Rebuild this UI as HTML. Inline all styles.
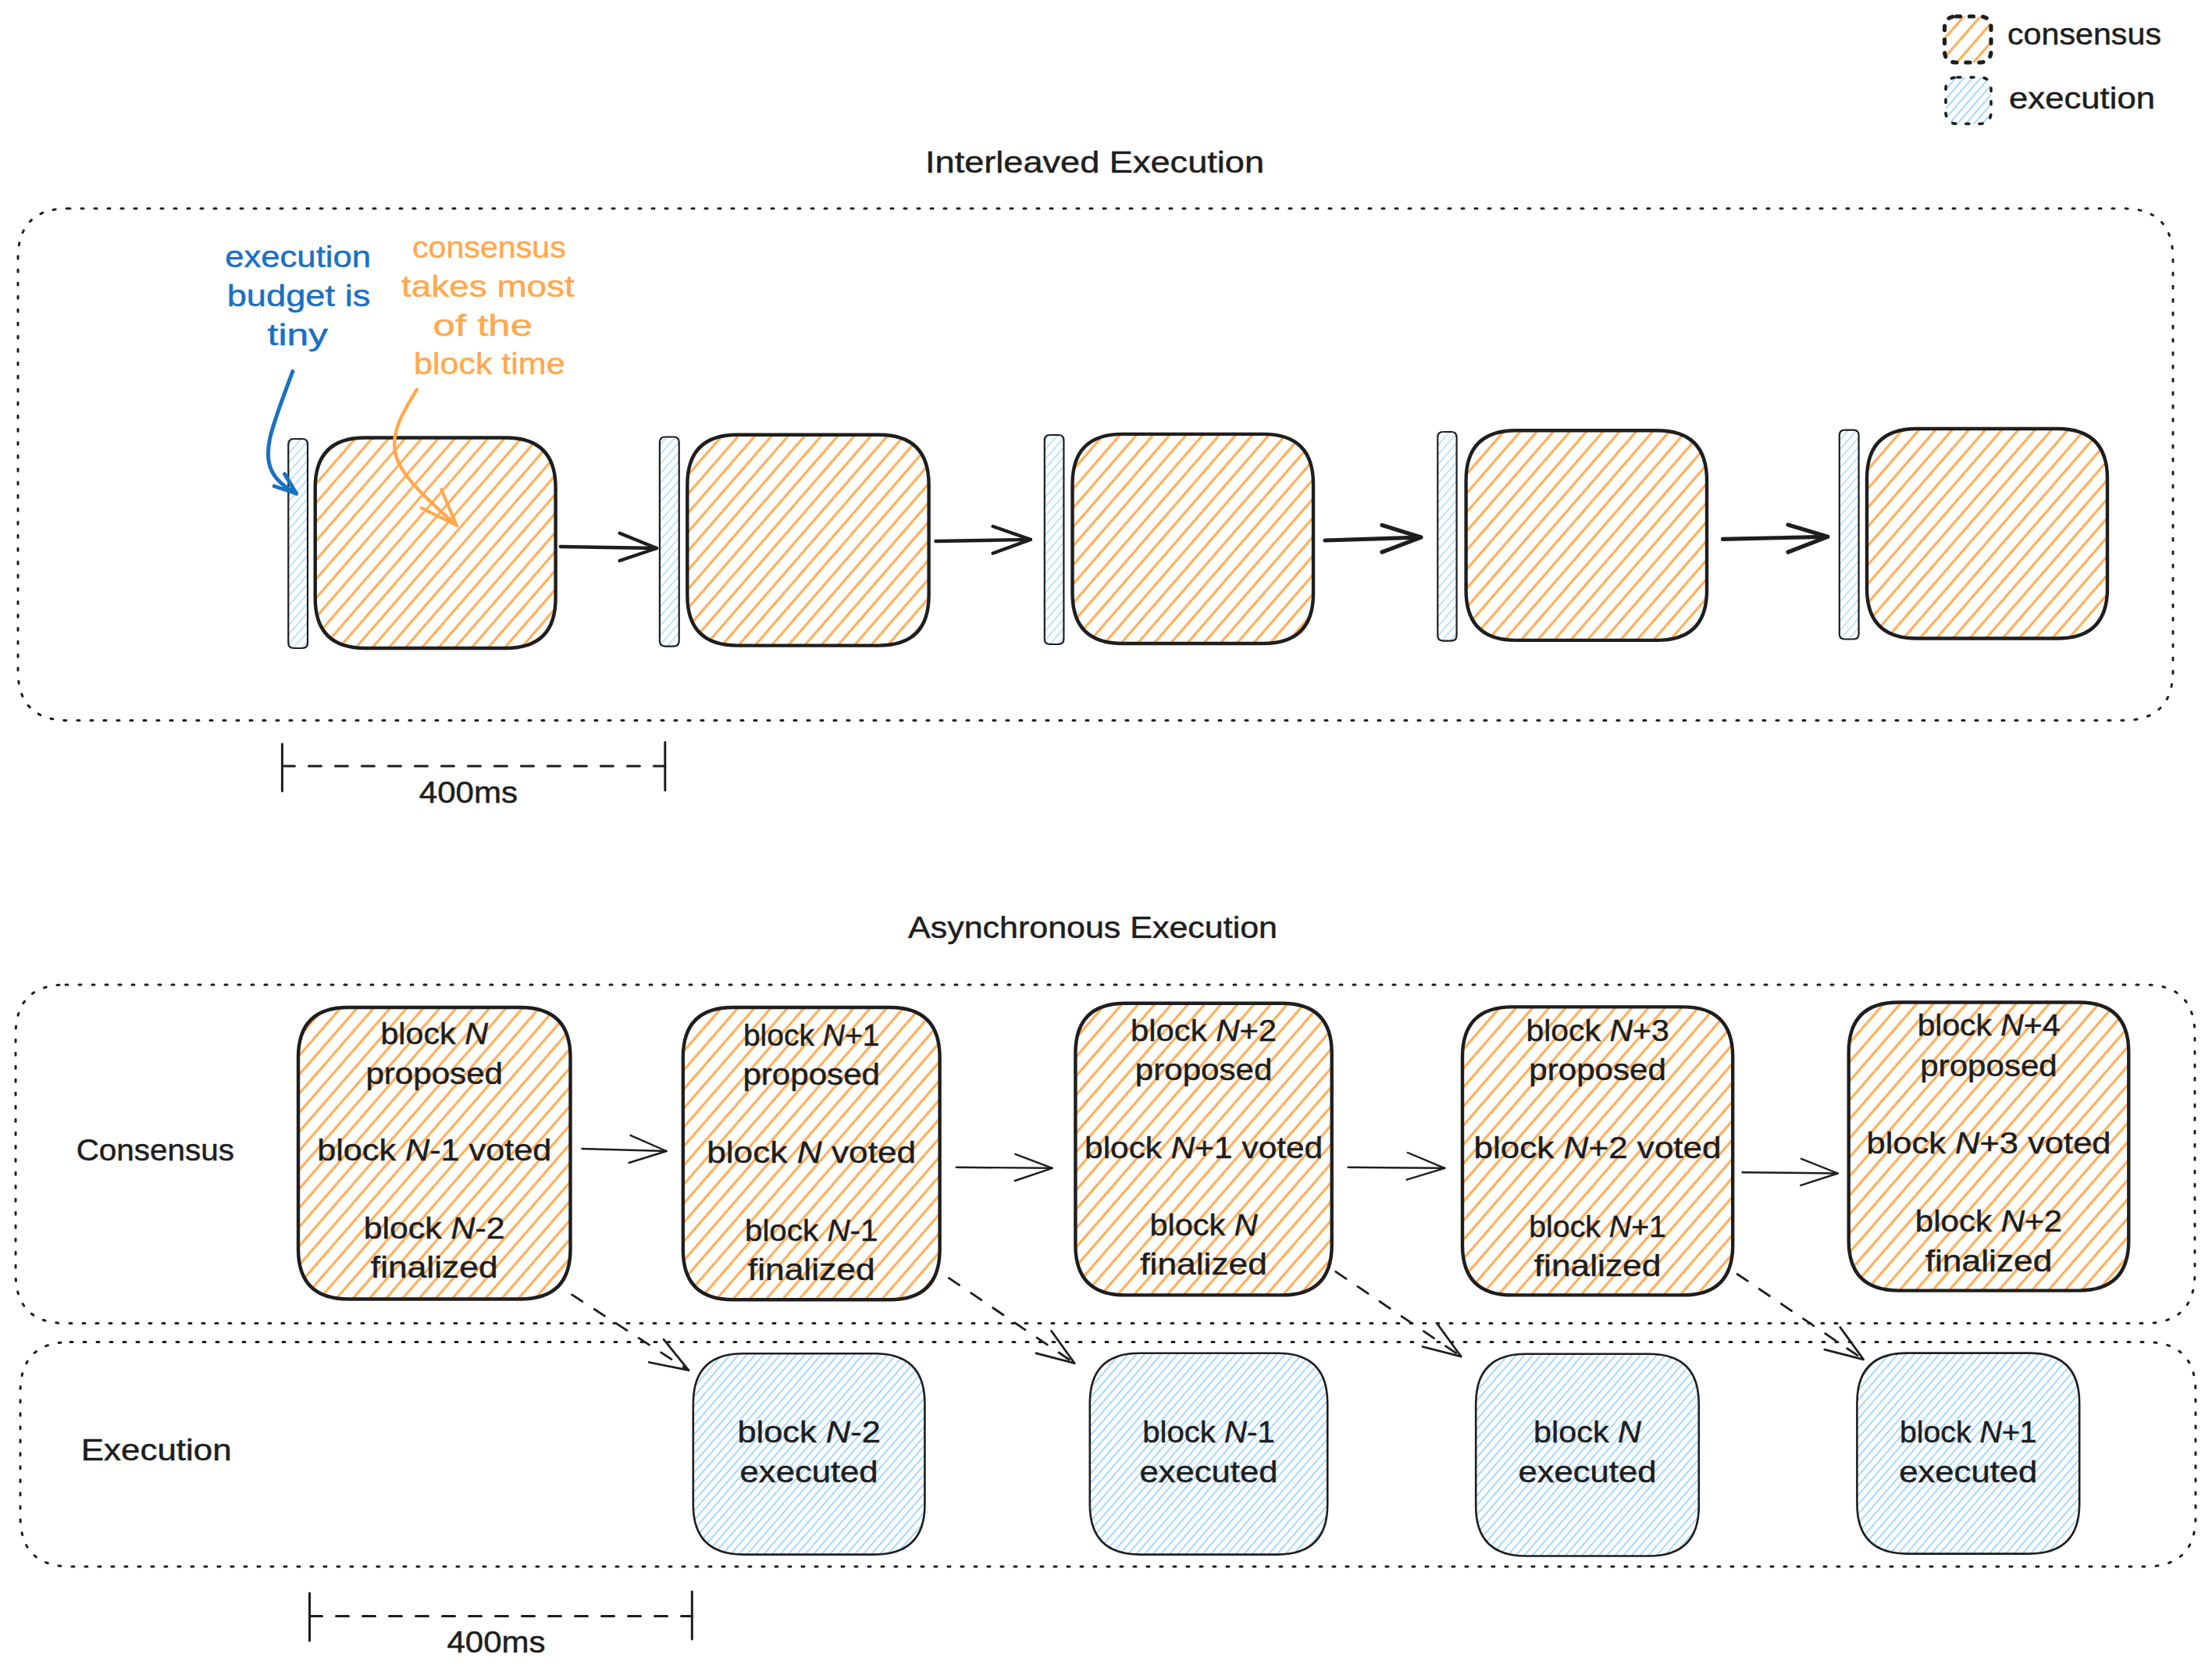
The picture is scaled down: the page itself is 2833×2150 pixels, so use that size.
<!DOCTYPE html><html><head><meta charset="utf-8"><style>html,body{margin:0;padding:0;background:#fff;}svg{display:block;}text{font-family:"Liberation Sans",sans-serif;}</style></head><body>
<svg width="2833" height="2150" viewBox="0 0 2833 2150">
<defs>
<pattern id="ho" patternUnits="userSpaceOnUse" width="40" height="16" patternTransform="rotate(-49)"><line x1="0" y1="8" x2="40" y2="8" stroke="#ffa94d" stroke-width="3.2"/></pattern>
<pattern id="hb" patternUnits="userSpaceOnUse" width="40" height="8" patternTransform="rotate(-49)"><line x1="0" y1="4" x2="40" y2="4" stroke="#a5d8ff" stroke-width="1.9"/></pattern>
<pattern id="hbs" patternUnits="userSpaceOnUse" width="40" height="8" patternTransform="rotate(-49)"><line x1="0" y1="4" x2="40" y2="4" stroke="#a5d8ff" stroke-width="1.4"/></pattern>
</defs>
<rect width="2833" height="2150" fill="#fff"/>
<path d="M2505.5,21.0 L2535.0,21.0 Q2550.0,21.0 2550.0,36.0 L2550.0,65.0 Q2550.0,80.0 2535.0,80.0 L2505.5,80.0 Q2490.5,80.0 2490.5,65.0 L2490.5,36.0 Q2490.5,21.0 2505.5,21.0 Z" fill="url(#ho)" stroke="none"/>
<path d="M2505.5,21.0 L2535.0,21.0 Q2550.0,21.0 2550.0,36.0 L2550.0,65.0 Q2550.0,80.0 2535.0,80.0 L2505.5,80.0 Q2490.5,80.0 2490.5,65.0 L2490.5,36.0 Q2490.5,21.0 2505.5,21.0 Z" fill="none" stroke="#1e1e1e" stroke-width="5.2" stroke-linecap="round" stroke-linejoin="round" stroke-dasharray="5 12"/>
<path d="M2507.0,99.0 L2535.0,99.0 Q2550.0,99.0 2550.0,114.0 L2550.0,143.5 Q2550.0,158.5 2535.0,158.5 L2507.0,158.5 Q2492.0,158.5 2492.0,143.5 L2492.0,114.0 Q2492.0,99.0 2507.0,99.0 Z" fill="url(#hb)" stroke="none"/>
<path d="M2507.0,99.0 L2535.0,99.0 Q2550.0,99.0 2550.0,114.0 L2550.0,143.5 Q2550.0,158.5 2535.0,158.5 L2507.0,158.5 Q2492.0,158.5 2492.0,143.5 L2492.0,114.0 Q2492.0,99.0 2507.0,99.0 Z" fill="none" stroke="#1e1e1e" stroke-width="3.6" stroke-linecap="round" stroke-linejoin="round" stroke-dasharray="4 13"/>
<text x="2669.5" y="57.0" text-anchor="middle" font-size="39" fill="#1e1e1e" stroke="#1e1e1e" stroke-width="0.5" textLength="197.0" lengthAdjust="spacingAndGlyphs">consensus</text>
<text x="2666.5" y="139.0" text-anchor="middle" font-size="39" fill="#1e1e1e" stroke="#1e1e1e" stroke-width="0.5" textLength="187.0" lengthAdjust="spacingAndGlyphs">execution</text>
<text x="1402.0" y="221.0" text-anchor="middle" font-size="39" fill="#1e1e1e" stroke="#1e1e1e" stroke-width="0.5" textLength="434.0" lengthAdjust="spacingAndGlyphs">Interleaved Execution</text>
<text x="1399.5" y="1201.0" text-anchor="middle" font-size="39" fill="#1e1e1e" stroke="#1e1e1e" stroke-width="0.5" textLength="473.0" lengthAdjust="spacingAndGlyphs">Asynchronous Execution</text>
<path d="M87.0,267.0 L2719.0,267.0 Q2783.0,267.0 2783.0,331.0 L2783.0,858.5 Q2783.0,922.5 2719.0,922.5 L87.0,922.5 Q23.0,922.5 23.0,858.5 L23.0,331.0 Q23.0,267.0 87.0,267.0 Z" fill="none" stroke="#1e1e1e" stroke-width="3" stroke-linecap="round" stroke-linejoin="round" stroke-dasharray="3 14"/>
<text x="381.6" y="342.4" text-anchor="middle" font-size="39" fill="#1971c2" stroke="#1971c2" stroke-width="0.5" textLength="186.7" lengthAdjust="spacingAndGlyphs">execution</text>
<text x="382.5" y="391.7" text-anchor="middle" font-size="39" fill="#1971c2" stroke="#1971c2" stroke-width="0.5" textLength="183.7" lengthAdjust="spacingAndGlyphs">budget is</text>
<text x="381.3" y="442.0" text-anchor="middle" font-size="39" fill="#1971c2" stroke="#1971c2" stroke-width="0.5" textLength="77.4" lengthAdjust="spacingAndGlyphs">tiny</text>
<text x="626.4" y="330.2" text-anchor="middle" font-size="39" fill="#ffa94d" stroke="#ffa94d" stroke-width="0.5" textLength="196.8" lengthAdjust="spacingAndGlyphs">consensus</text>
<text x="624.9" y="380.4" text-anchor="middle" font-size="39" fill="#ffa94d" stroke="#ffa94d" stroke-width="0.5" textLength="221.8" lengthAdjust="spacingAndGlyphs">takes most</text>
<text x="618.3" y="429.5" text-anchor="middle" font-size="39" fill="#ffa94d" stroke="#ffa94d" stroke-width="0.5" textLength="127.4" lengthAdjust="spacingAndGlyphs">of the</text>
<text x="626.8" y="479.0" text-anchor="middle" font-size="39" fill="#ffa94d" stroke="#ffa94d" stroke-width="0.5" textLength="193.6" lengthAdjust="spacingAndGlyphs">block time</text>
<path d="M376.3,562.0 L387.0,562.0 Q394.0,562.0 394.0,569.0 L394.0,823.0 Q394.0,830.0 387.0,830.0 L376.3,830.0 Q369.3,830.0 369.3,823.0 L369.3,569.0 Q369.3,562.0 376.3,562.0 Z" fill="url(#hbs)" stroke="none"/>
<path d="M376.3,562.0 L387.0,562.0 Q394.0,562.0 394.0,569.0 L394.0,823.0 Q394.0,830.0 387.0,830.0 L376.3,830.0 Q369.3,830.0 369.3,823.0 L369.3,569.0 Q369.3,562.0 376.3,562.0 Z" fill="none" stroke="#1e1e1e" stroke-width="2.2" stroke-linecap="round" stroke-linejoin="round"/>
<path d="M851.9,559.5 L862.7,559.5 Q869.7,559.5 869.7,566.5 L869.7,820.6 Q869.7,827.6 862.7,827.6 L851.9,827.6 Q844.9,827.6 844.9,820.6 L844.9,566.5 Q844.9,559.5 851.9,559.5 Z" fill="url(#hbs)" stroke="none"/>
<path d="M851.9,559.5 L862.7,559.5 Q869.7,559.5 869.7,566.5 L869.7,820.6 Q869.7,827.6 862.7,827.6 L851.9,827.6 Q844.9,827.6 844.9,820.6 L844.9,566.5 Q844.9,559.5 851.9,559.5 Z" fill="none" stroke="#1e1e1e" stroke-width="2.2" stroke-linecap="round" stroke-linejoin="round"/>
<path d="M1344.8,557.0 L1355.4,557.0 Q1362.4,557.0 1362.4,564.0 L1362.4,818.0 Q1362.4,825.0 1355.4,825.0 L1344.8,825.0 Q1337.8,825.0 1337.8,818.0 L1337.8,564.0 Q1337.8,557.0 1344.8,557.0 Z" fill="url(#hbs)" stroke="none"/>
<path d="M1344.8,557.0 L1355.4,557.0 Q1362.4,557.0 1362.4,564.0 L1362.4,818.0 Q1362.4,825.0 1355.4,825.0 L1344.8,825.0 Q1337.8,825.0 1337.8,818.0 L1337.8,564.0 Q1337.8,557.0 1344.8,557.0 Z" fill="none" stroke="#1e1e1e" stroke-width="2.2" stroke-linecap="round" stroke-linejoin="round"/>
<path d="M1848.3,553.0 L1858.6,553.0 Q1865.6,553.0 1865.6,560.0 L1865.6,813.6 Q1865.6,820.6 1858.6,820.6 L1848.3,820.6 Q1841.3,820.6 1841.3,813.6 L1841.3,560.0 Q1841.3,553.0 1848.3,553.0 Z" fill="url(#hbs)" stroke="none"/>
<path d="M1848.3,553.0 L1858.6,553.0 Q1865.6,553.0 1865.6,560.0 L1865.6,813.6 Q1865.6,820.6 1858.6,820.6 L1848.3,820.6 Q1841.3,820.6 1841.3,813.6 L1841.3,560.0 Q1841.3,553.0 1848.3,553.0 Z" fill="none" stroke="#1e1e1e" stroke-width="2.2" stroke-linecap="round" stroke-linejoin="round"/>
<path d="M2362.8,550.6 L2373.6,550.6 Q2380.6,550.6 2380.6,557.6 L2380.6,811.5 Q2380.6,818.5 2373.6,818.5 L2362.8,818.5 Q2355.8,818.5 2355.8,811.5 L2355.8,557.6 Q2355.8,550.6 2362.8,550.6 Z" fill="url(#hbs)" stroke="none"/>
<path d="M2362.8,550.6 L2373.6,550.6 Q2380.6,550.6 2380.6,557.6 L2380.6,811.5 Q2380.6,818.5 2373.6,818.5 L2362.8,818.5 Q2355.8,818.5 2355.8,811.5 L2355.8,557.6 Q2355.8,550.6 2362.8,550.6 Z" fill="none" stroke="#1e1e1e" stroke-width="2.2" stroke-linecap="round" stroke-linejoin="round"/>
<path d="M467.7,560.5 L647.6,560.5 Q711.6,560.5 711.6,624.5 L711.6,766.0 Q711.6,830.0 647.6,830.0 L467.7,830.0 Q403.7,830.0 403.7,766.0 L403.7,624.5 Q403.7,560.5 467.7,560.5 Z" fill="url(#ho)" stroke="none"/>
<path d="M467.7,560.5 L647.6,560.5 Q711.6,560.5 711.6,624.5 L711.6,766.0 Q711.6,830.0 647.6,830.0 L467.7,830.0 Q403.7,830.0 403.7,766.0 L403.7,624.5 Q403.7,560.5 467.7,560.5 Z" fill="none" stroke="#1e1e1e" stroke-width="4.4" stroke-linecap="round" stroke-linejoin="round"/>
<path d="M944.3,556.7 L1125.6,556.7 Q1189.6,556.7 1189.6,620.7 L1189.6,762.6 Q1189.6,826.6 1125.6,826.6 L944.3,826.6 Q880.3,826.6 880.3,762.6 L880.3,620.7 Q880.3,556.7 944.3,556.7 Z" fill="url(#ho)" stroke="none"/>
<path d="M944.3,556.7 L1125.6,556.7 Q1189.6,556.7 1189.6,620.7 L1189.6,762.6 Q1189.6,826.6 1125.6,826.6 L944.3,826.6 Q880.3,826.6 880.3,762.6 L880.3,620.7 Q880.3,556.7 944.3,556.7 Z" fill="none" stroke="#1e1e1e" stroke-width="4.4" stroke-linecap="round" stroke-linejoin="round"/>
<path d="M1437.5,555.9 L1618.0,555.9 Q1682.0,555.9 1682.0,619.9 L1682.0,760.0 Q1682.0,824.0 1618.0,824.0 L1437.5,824.0 Q1373.5,824.0 1373.5,760.0 L1373.5,619.9 Q1373.5,555.9 1437.5,555.9 Z" fill="url(#ho)" stroke="none"/>
<path d="M1437.5,555.9 L1618.0,555.9 Q1682.0,555.9 1682.0,619.9 L1682.0,760.0 Q1682.0,824.0 1618.0,824.0 L1437.5,824.0 Q1373.5,824.0 1373.5,760.0 L1373.5,619.9 Q1373.5,555.9 1437.5,555.9 Z" fill="none" stroke="#1e1e1e" stroke-width="4.4" stroke-linecap="round" stroke-linejoin="round"/>
<path d="M1941.6,551.3 L2122.0,551.3 Q2186.0,551.3 2186.0,615.3 L2186.0,755.9 Q2186.0,819.9 2122.0,819.9 L1941.6,819.9 Q1877.6,819.9 1877.6,755.9 L1877.6,615.3 Q1877.6,551.3 1941.6,551.3 Z" fill="url(#ho)" stroke="none"/>
<path d="M1941.6,551.3 L2122.0,551.3 Q2186.0,551.3 2186.0,615.3 L2186.0,755.9 Q2186.0,819.9 2122.0,819.9 L1941.6,819.9 Q1877.6,819.9 1877.6,755.9 L1877.6,615.3 Q1877.6,551.3 1941.6,551.3 Z" fill="none" stroke="#1e1e1e" stroke-width="4.4" stroke-linecap="round" stroke-linejoin="round"/>
<path d="M2455.0,549.0 L2635.0,549.0 Q2699.0,549.0 2699.0,613.0 L2699.0,753.5 Q2699.0,817.5 2635.0,817.5 L2455.0,817.5 Q2391.0,817.5 2391.0,753.5 L2391.0,613.0 Q2391.0,549.0 2455.0,549.0 Z" fill="url(#ho)" stroke="none"/>
<path d="M2455.0,549.0 L2635.0,549.0 Q2699.0,549.0 2699.0,613.0 L2699.0,753.5 Q2699.0,817.5 2635.0,817.5 L2455.0,817.5 Q2391.0,817.5 2391.0,753.5 L2391.0,613.0 Q2391.0,549.0 2455.0,549.0 Z" fill="none" stroke="#1e1e1e" stroke-width="4.4" stroke-linecap="round" stroke-linejoin="round"/>
<path d="M717.7,700.0 L841.0,702.0" fill="none" stroke="#1e1e1e" stroke-width="4.4" stroke-linecap="round"/>
<path d="M793.6,682.7 L841.0,702.0 L793.6,718.0" fill="none" stroke="#1e1e1e" stroke-width="4.4" stroke-linecap="round" stroke-linejoin="round"/>
<path d="M1198.3,693.0 L1319.9,690.9" fill="none" stroke="#1e1e1e" stroke-width="4.4" stroke-linecap="round"/>
<path d="M1271.6,674.0 L1319.9,690.9 L1271.6,708.5" fill="none" stroke="#1e1e1e" stroke-width="4.4" stroke-linecap="round" stroke-linejoin="round"/>
<path d="M1697.0,692.0 L1819.9,688.0" fill="none" stroke="#1e1e1e" stroke-width="5.2" stroke-linecap="round"/>
<path d="M1770.0,672.4 L1819.9,688.0 L1770.0,707.0" fill="none" stroke="#1e1e1e" stroke-width="5.2" stroke-linecap="round" stroke-linejoin="round"/>
<path d="M2206.5,690.3 L2340.7,687.3" fill="none" stroke="#1e1e1e" stroke-width="5.2" stroke-linecap="round"/>
<path d="M2290.0,672.0 L2340.7,687.3 L2290.0,707.0" fill="none" stroke="#1e1e1e" stroke-width="5.2" stroke-linecap="round" stroke-linejoin="round"/>
<path d="M374.8,475.5 C366,500 352,535 346,560 C338,595 348,615 379.5,632" fill="none" stroke="#1971c2" stroke-width="5" stroke-linecap="round"/>
<path d="M364.6,607 L379.5,632 L351.2,622.5" fill="none" stroke="#1971c2" stroke-width="5" stroke-linecap="round" stroke-linejoin="round"/>
<path d="M533.7,499 C515,530 503,550 505.5,575 C508,600 530,625 584.8,672.7" fill="none" stroke="#ffa94d" stroke-width="4.5" stroke-linecap="round"/>
<path d="M565.2,626.8 L584.8,672.7 L539.6,650.4" fill="none" stroke="#ffa94d" stroke-width="4.2" stroke-linecap="round" stroke-linejoin="round"/>
<path d="M361.4,952.7 L361.4,1013.0" fill="none" stroke="#1e1e1e" stroke-width="3" stroke-linecap="round"/>
<path d="M851.8,950.6 L851.8,1012.0" fill="none" stroke="#1e1e1e" stroke-width="3" stroke-linecap="round"/>
<path d="M361.4,981.0 L851.8,981.0" fill="none" stroke="#1e1e1e" stroke-width="3" stroke-linecap="round" stroke-dasharray="16 18"/>
<text x="599.9" y="1028.4" text-anchor="middle" font-size="39" fill="#1e1e1e" stroke="#1e1e1e" stroke-width="0.5" textLength="126.3" lengthAdjust="spacingAndGlyphs">400ms</text>
<path d="M84.0,1261.0 L2747.0,1261.0 Q2811.0,1261.0 2811.0,1325.0 L2811.0,1630.5 Q2811.0,1694.5 2747.0,1694.5 L84.0,1694.5 Q20.0,1694.5 20.0,1630.5 L20.0,1325.0 Q20.0,1261.0 84.0,1261.0 Z" fill="none" stroke="#1e1e1e" stroke-width="3" stroke-linecap="round" stroke-linejoin="round" stroke-dasharray="3 14"/>
<path d="M90.0,1718.5 L2748.0,1718.5 Q2812.0,1718.5 2812.0,1782.5 L2812.0,1942.0 Q2812.0,2006.0 2748.0,2006.0 L90.0,2006.0 Q26.0,2006.0 26.0,1942.0 L26.0,1782.5 Q26.0,1718.5 90.0,1718.5 Z" fill="none" stroke="#1e1e1e" stroke-width="3" stroke-linecap="round" stroke-linejoin="round" stroke-dasharray="3 14"/>
<text x="198.8" y="1486.0" text-anchor="middle" font-size="39" fill="#1e1e1e" stroke="#1e1e1e" stroke-width="0.5" textLength="202.3" lengthAdjust="spacingAndGlyphs">Consensus</text>
<text x="200.2" y="1870.4" text-anchor="middle" font-size="39" fill="#1e1e1e" stroke="#1e1e1e" stroke-width="0.5" textLength="192.7" lengthAdjust="spacingAndGlyphs">Execution</text>
<path d="M446.0,1290.0 L666.5,1290.0 Q730.5,1290.0 730.5,1354.0 L730.5,1599.5 Q730.5,1663.5 666.5,1663.5 L446.0,1663.5 Q382.0,1663.5 382.0,1599.5 L382.0,1354.0 Q382.0,1290.0 446.0,1290.0 Z" fill="url(#ho)" stroke="none"/>
<path d="M446.0,1290.0 L666.5,1290.0 Q730.5,1290.0 730.5,1354.0 L730.5,1599.5 Q730.5,1663.5 666.5,1663.5 L446.0,1663.5 Q382.0,1663.5 382.0,1599.5 L382.0,1354.0 Q382.0,1290.0 446.0,1290.0 Z" fill="none" stroke="#1e1e1e" stroke-width="4.4" stroke-linecap="round" stroke-linejoin="round"/>
<path d="M938.8,1290.0 L1139.6,1290.0 Q1203.6,1290.0 1203.6,1354.0 L1203.6,1600.3 Q1203.6,1664.3 1139.6,1664.3 L938.8,1664.3 Q874.8,1664.3 874.8,1600.3 L874.8,1354.0 Q874.8,1290.0 938.8,1290.0 Z" fill="url(#ho)" stroke="none"/>
<path d="M938.8,1290.0 L1139.6,1290.0 Q1203.6,1290.0 1203.6,1354.0 L1203.6,1600.3 Q1203.6,1664.3 1139.6,1664.3 L938.8,1664.3 Q874.8,1664.3 874.8,1600.3 L874.8,1354.0 Q874.8,1290.0 938.8,1290.0 Z" fill="none" stroke="#1e1e1e" stroke-width="4.4" stroke-linecap="round" stroke-linejoin="round"/>
<path d="M1441.4,1284.8 L1641.7,1284.8 Q1705.7,1284.8 1705.7,1348.8 L1705.7,1594.4 Q1705.7,1658.4 1641.7,1658.4 L1441.4,1658.4 Q1377.4,1658.4 1377.4,1594.4 L1377.4,1348.8 Q1377.4,1284.8 1441.4,1284.8 Z" fill="url(#ho)" stroke="none"/>
<path d="M1441.4,1284.8 L1641.7,1284.8 Q1705.7,1284.8 1705.7,1348.8 L1705.7,1594.4 Q1705.7,1658.4 1641.7,1658.4 L1441.4,1658.4 Q1377.4,1658.4 1377.4,1594.4 L1377.4,1348.8 Q1377.4,1284.8 1441.4,1284.8 Z" fill="none" stroke="#1e1e1e" stroke-width="4.4" stroke-linecap="round" stroke-linejoin="round"/>
<path d="M1937.0,1289.4 L2155.2,1289.4 Q2219.2,1289.4 2219.2,1353.4 L2219.2,1594.4 Q2219.2,1658.4 2155.2,1658.4 L1937.0,1658.4 Q1873.0,1658.4 1873.0,1594.4 L1873.0,1353.4 Q1873.0,1289.4 1937.0,1289.4 Z" fill="url(#ho)" stroke="none"/>
<path d="M1937.0,1289.4 L2155.2,1289.4 Q2219.2,1289.4 2219.2,1353.4 L2219.2,1594.4 Q2219.2,1658.4 2155.2,1658.4 L1937.0,1658.4 Q1873.0,1658.4 1873.0,1594.4 L1873.0,1353.4 Q1873.0,1289.4 1937.0,1289.4 Z" fill="none" stroke="#1e1e1e" stroke-width="4.4" stroke-linecap="round" stroke-linejoin="round"/>
<path d="M2431.7,1283.5 L2662.3,1283.5 Q2726.3,1283.5 2726.3,1347.5 L2726.3,1588.6 Q2726.3,1652.6 2662.3,1652.6 L2431.7,1652.6 Q2367.7,1652.6 2367.7,1588.6 L2367.7,1347.5 Q2367.7,1283.5 2431.7,1283.5 Z" fill="url(#ho)" stroke="none"/>
<path d="M2431.7,1283.5 L2662.3,1283.5 Q2726.3,1283.5 2726.3,1347.5 L2726.3,1588.6 Q2726.3,1652.6 2662.3,1652.6 L2431.7,1652.6 Q2367.7,1652.6 2367.7,1588.6 L2367.7,1347.5 Q2367.7,1283.5 2431.7,1283.5 Z" fill="none" stroke="#1e1e1e" stroke-width="4.4" stroke-linecap="round" stroke-linejoin="round"/>
<text x="556.2" y="1337.0" text-anchor="middle" font-size="39" fill="#1e1e1e" stroke="#1e1e1e" stroke-width="0.5" textLength="137.5" lengthAdjust="spacingAndGlyphs">block <tspan font-style="italic">N</tspan></text>
<text x="556.2" y="1387.8" text-anchor="middle" font-size="39" fill="#1e1e1e" stroke="#1e1e1e" stroke-width="0.5" textLength="175.6" lengthAdjust="spacingAndGlyphs">proposed</text>
<text x="556.2" y="1486.3" text-anchor="middle" font-size="39" fill="#1e1e1e" stroke="#1e1e1e" stroke-width="0.5" textLength="300.0" lengthAdjust="spacingAndGlyphs">block <tspan font-style="italic">N</tspan>-1 voted</text>
<text x="556.2" y="1586.0" text-anchor="middle" font-size="39" fill="#1e1e1e" stroke="#1e1e1e" stroke-width="0.5" textLength="181.0" lengthAdjust="spacingAndGlyphs">block <tspan font-style="italic">N</tspan>-2</text>
<text x="556.2" y="1636.0" text-anchor="middle" font-size="39" fill="#1e1e1e" stroke="#1e1e1e" stroke-width="0.5" textLength="162.7" lengthAdjust="spacingAndGlyphs">finalized</text>
<text x="1039.2" y="1338.6" text-anchor="middle" font-size="39" fill="#1e1e1e" stroke="#1e1e1e" stroke-width="0.5" textLength="174.5" lengthAdjust="spacingAndGlyphs">block <tspan font-style="italic">N</tspan>+1</text>
<text x="1039.2" y="1389.0" text-anchor="middle" font-size="39" fill="#1e1e1e" stroke="#1e1e1e" stroke-width="0.5" textLength="175.6" lengthAdjust="spacingAndGlyphs">proposed</text>
<text x="1039.2" y="1489.0" text-anchor="middle" font-size="39" fill="#1e1e1e" stroke="#1e1e1e" stroke-width="0.5" textLength="268.0" lengthAdjust="spacingAndGlyphs">block <tspan font-style="italic">N</tspan> voted</text>
<text x="1039.2" y="1588.7" text-anchor="middle" font-size="39" fill="#1e1e1e" stroke="#1e1e1e" stroke-width="0.5" textLength="170.5" lengthAdjust="spacingAndGlyphs">block <tspan font-style="italic">N</tspan>-1</text>
<text x="1039.2" y="1638.7" text-anchor="middle" font-size="39" fill="#1e1e1e" stroke="#1e1e1e" stroke-width="0.5" textLength="162.7" lengthAdjust="spacingAndGlyphs">finalized</text>
<text x="1541.6" y="1332.7" text-anchor="middle" font-size="39" fill="#1e1e1e" stroke="#1e1e1e" stroke-width="0.5" textLength="187.0" lengthAdjust="spacingAndGlyphs">block <tspan font-style="italic">N</tspan>+2</text>
<text x="1541.6" y="1382.6" text-anchor="middle" font-size="39" fill="#1e1e1e" stroke="#1e1e1e" stroke-width="0.5" textLength="175.6" lengthAdjust="spacingAndGlyphs">proposed</text>
<text x="1541.6" y="1482.5" text-anchor="middle" font-size="39" fill="#1e1e1e" stroke="#1e1e1e" stroke-width="0.5" textLength="305.0" lengthAdjust="spacingAndGlyphs">block <tspan font-style="italic">N</tspan>+1 voted</text>
<text x="1541.6" y="1582.3" text-anchor="middle" font-size="39" fill="#1e1e1e" stroke="#1e1e1e" stroke-width="0.5" textLength="138.4" lengthAdjust="spacingAndGlyphs">block <tspan font-style="italic">N</tspan></text>
<text x="1541.6" y="1632.3" text-anchor="middle" font-size="39" fill="#1e1e1e" stroke="#1e1e1e" stroke-width="0.5" textLength="162.7" lengthAdjust="spacingAndGlyphs">finalized</text>
<text x="2046.1" y="1332.7" text-anchor="middle" font-size="39" fill="#1e1e1e" stroke="#1e1e1e" stroke-width="0.5" textLength="183.3" lengthAdjust="spacingAndGlyphs">block <tspan font-style="italic">N</tspan>+3</text>
<text x="2046.1" y="1383.2" text-anchor="middle" font-size="39" fill="#1e1e1e" stroke="#1e1e1e" stroke-width="0.5" textLength="175.6" lengthAdjust="spacingAndGlyphs">proposed</text>
<text x="2046.1" y="1483.0" text-anchor="middle" font-size="39" fill="#1e1e1e" stroke="#1e1e1e" stroke-width="0.5" textLength="317.0" lengthAdjust="spacingAndGlyphs">block <tspan font-style="italic">N</tspan>+2 voted</text>
<text x="2046.1" y="1583.6" text-anchor="middle" font-size="39" fill="#1e1e1e" stroke="#1e1e1e" stroke-width="0.5" textLength="175.6" lengthAdjust="spacingAndGlyphs">block <tspan font-style="italic">N</tspan>+1</text>
<text x="2046.1" y="1633.5" text-anchor="middle" font-size="39" fill="#1e1e1e" stroke="#1e1e1e" stroke-width="0.5" textLength="162.7" lengthAdjust="spacingAndGlyphs">finalized</text>
<text x="2547.0" y="1325.8" text-anchor="middle" font-size="39" fill="#1e1e1e" stroke="#1e1e1e" stroke-width="0.5" textLength="182.7" lengthAdjust="spacingAndGlyphs">block <tspan font-style="italic">N</tspan>+4</text>
<text x="2547.0" y="1377.8" text-anchor="middle" font-size="39" fill="#1e1e1e" stroke="#1e1e1e" stroke-width="0.5" textLength="175.6" lengthAdjust="spacingAndGlyphs">proposed</text>
<text x="2547.0" y="1477.3" text-anchor="middle" font-size="39" fill="#1e1e1e" stroke="#1e1e1e" stroke-width="0.5" textLength="313.0" lengthAdjust="spacingAndGlyphs">block <tspan font-style="italic">N</tspan>+3 voted</text>
<text x="2547.0" y="1577.4" text-anchor="middle" font-size="39" fill="#1e1e1e" stroke="#1e1e1e" stroke-width="0.5" textLength="188.4" lengthAdjust="spacingAndGlyphs">block <tspan font-style="italic">N</tspan>+2</text>
<text x="2547.0" y="1627.5" text-anchor="middle" font-size="39" fill="#1e1e1e" stroke="#1e1e1e" stroke-width="0.5" textLength="162.7" lengthAdjust="spacingAndGlyphs">finalized</text>
<path d="M745.3,1471.0 L853.6,1474.0" fill="none" stroke="#1e1e1e" stroke-width="2.4" stroke-linecap="round"/>
<path d="M807.5,1453.8 L853.6,1474.0 L805.5,1489.0" fill="none" stroke="#1e1e1e" stroke-width="2.4" stroke-linecap="round" stroke-linejoin="round"/>
<path d="M1224.8,1494.8 L1347.7,1495.8" fill="none" stroke="#1e1e1e" stroke-width="2.4" stroke-linecap="round"/>
<path d="M1300.3,1477.9 L1347.7,1495.8 L1299.8,1512.0" fill="none" stroke="#1e1e1e" stroke-width="2.4" stroke-linecap="round" stroke-linejoin="round"/>
<path d="M1726.6,1494.8 L1850.3,1495.8" fill="none" stroke="#1e1e1e" stroke-width="2.4" stroke-linecap="round"/>
<path d="M1802.9,1476.0 L1850.3,1495.8 L1801.6,1510.7" fill="none" stroke="#1e1e1e" stroke-width="2.4" stroke-linecap="round" stroke-linejoin="round"/>
<path d="M2231.5,1501.2 L2353.8,1502.5" fill="none" stroke="#1e1e1e" stroke-width="2.4" stroke-linecap="round"/>
<path d="M2307.0,1483.8 L2353.8,1502.5 L2306.2,1517.8" fill="none" stroke="#1e1e1e" stroke-width="2.4" stroke-linecap="round" stroke-linejoin="round"/>
<path d="M951.8,1733.3 L1120.4,1733.3 Q1184.4,1733.3 1184.4,1797.3 L1184.4,1926.6 Q1184.4,1990.6 1120.4,1990.6 L951.8,1990.6 Q887.8,1990.6 887.8,1926.6 L887.8,1797.3 Q887.8,1733.3 951.8,1733.3 Z" fill="url(#hb)" stroke="none"/>
<path d="M951.8,1733.3 L1120.4,1733.3 Q1184.4,1733.3 1184.4,1797.3 L1184.4,1926.6 Q1184.4,1990.6 1120.4,1990.6 L951.8,1990.6 Q887.8,1990.6 887.8,1926.6 L887.8,1797.3 Q887.8,1733.3 951.8,1733.3 Z" fill="none" stroke="#1e1e1e" stroke-width="2.6" stroke-linecap="round" stroke-linejoin="round"/>
<text x="1036.1" y="1847.0" text-anchor="middle" font-size="39" fill="#1e1e1e" stroke="#1e1e1e" stroke-width="0.5" textLength="183.4" lengthAdjust="spacingAndGlyphs">block <tspan font-style="italic">N</tspan>-2</text>
<text x="1036.1" y="1897.5" text-anchor="middle" font-size="39" fill="#1e1e1e" stroke="#1e1e1e" stroke-width="0.5" textLength="177.0" lengthAdjust="spacingAndGlyphs">executed</text>
<path d="M1459.8,1732.8 L1636.2,1732.8 Q1700.2,1732.8 1700.2,1796.8 L1700.2,1926.6 Q1700.2,1990.6 1636.2,1990.6 L1459.8,1990.6 Q1395.8,1990.6 1395.8,1926.6 L1395.8,1796.8 Q1395.8,1732.8 1459.8,1732.8 Z" fill="url(#hb)" stroke="none"/>
<path d="M1459.8,1732.8 L1636.2,1732.8 Q1700.2,1732.8 1700.2,1796.8 L1700.2,1926.6 Q1700.2,1990.6 1636.2,1990.6 L1459.8,1990.6 Q1395.8,1990.6 1395.8,1926.6 L1395.8,1796.8 Q1395.8,1732.8 1459.8,1732.8 Z" fill="none" stroke="#1e1e1e" stroke-width="2.6" stroke-linecap="round" stroke-linejoin="round"/>
<text x="1548.0" y="1847.0" text-anchor="middle" font-size="39" fill="#1e1e1e" stroke="#1e1e1e" stroke-width="0.5" textLength="169.5" lengthAdjust="spacingAndGlyphs">block <tspan font-style="italic">N</tspan>-1</text>
<text x="1548.0" y="1897.5" text-anchor="middle" font-size="39" fill="#1e1e1e" stroke="#1e1e1e" stroke-width="0.5" textLength="177.0" lengthAdjust="spacingAndGlyphs">executed</text>
<path d="M1954.2,1733.8 L2111.8,1733.8 Q2175.8,1733.8 2175.8,1797.8 L2175.8,1928.5 Q2175.8,1992.5 2111.8,1992.5 L1954.2,1992.5 Q1890.2,1992.5 1890.2,1928.5 L1890.2,1797.8 Q1890.2,1733.8 1954.2,1733.8 Z" fill="url(#hb)" stroke="none"/>
<path d="M1954.2,1733.8 L2111.8,1733.8 Q2175.8,1733.8 2175.8,1797.8 L2175.8,1928.5 Q2175.8,1992.5 2111.8,1992.5 L1954.2,1992.5 Q1890.2,1992.5 1890.2,1928.5 L1890.2,1797.8 Q1890.2,1733.8 1954.2,1733.8 Z" fill="none" stroke="#1e1e1e" stroke-width="2.6" stroke-linecap="round" stroke-linejoin="round"/>
<text x="2033.0" y="1847.0" text-anchor="middle" font-size="39" fill="#1e1e1e" stroke="#1e1e1e" stroke-width="0.5" textLength="137.8" lengthAdjust="spacingAndGlyphs">block <tspan font-style="italic">N</tspan></text>
<text x="2033.0" y="1897.5" text-anchor="middle" font-size="39" fill="#1e1e1e" stroke="#1e1e1e" stroke-width="0.5" textLength="177.0" lengthAdjust="spacingAndGlyphs">executed</text>
<path d="M2442.4,1732.6 L2599.2,1732.6 Q2663.2,1732.6 2663.2,1796.6 L2663.2,1925.6 Q2663.2,1989.6 2599.2,1989.6 L2442.4,1989.6 Q2378.4,1989.6 2378.4,1925.6 L2378.4,1796.6 Q2378.4,1732.6 2442.4,1732.6 Z" fill="url(#hb)" stroke="none"/>
<path d="M2442.4,1732.6 L2599.2,1732.6 Q2663.2,1732.6 2663.2,1796.6 L2663.2,1925.6 Q2663.2,1989.6 2599.2,1989.6 L2442.4,1989.6 Q2378.4,1989.6 2378.4,1925.6 L2378.4,1796.6 Q2378.4,1732.6 2442.4,1732.6 Z" fill="none" stroke="#1e1e1e" stroke-width="2.6" stroke-linecap="round" stroke-linejoin="round"/>
<text x="2520.8" y="1847.0" text-anchor="middle" font-size="39" fill="#1e1e1e" stroke="#1e1e1e" stroke-width="0.5" textLength="175.7" lengthAdjust="spacingAndGlyphs">block <tspan font-style="italic">N</tspan>+1</text>
<text x="2520.8" y="1897.5" text-anchor="middle" font-size="39" fill="#1e1e1e" stroke="#1e1e1e" stroke-width="0.5" textLength="177.0" lengthAdjust="spacingAndGlyphs">executed</text>
<path d="M732.5,1657.9 L881.9,1754.7" fill="none" stroke="#1e1e1e" stroke-width="2.8" stroke-linecap="round" stroke-dasharray="16 18"/>
<path d="M850.0,1715.2 L881.9,1754.7 L831.3,1744.5" fill="none" stroke="#1e1e1e" stroke-width="2.8" stroke-linecap="round" stroke-linejoin="round"/>
<path d="M1215.4,1636.6 L1376.3,1745.7" fill="none" stroke="#1e1e1e" stroke-width="2.8" stroke-linecap="round" stroke-dasharray="16 18"/>
<path d="M1346.5,1704.2 L1376.3,1745.7 L1327.0,1732.8" fill="none" stroke="#1e1e1e" stroke-width="2.8" stroke-linecap="round" stroke-linejoin="round"/>
<path d="M1710.7,1628.4 L1871.4,1737.2" fill="none" stroke="#1e1e1e" stroke-width="2.8" stroke-linecap="round" stroke-dasharray="16 18"/>
<path d="M1841.6,1696.2 L1871.4,1737.2 L1822.0,1724.5" fill="none" stroke="#1e1e1e" stroke-width="2.8" stroke-linecap="round" stroke-linejoin="round"/>
<path d="M2225.0,1631.5 L2386.6,1740.8" fill="none" stroke="#1e1e1e" stroke-width="2.8" stroke-linecap="round" stroke-dasharray="16 18"/>
<path d="M2356.8,1699.6 L2386.6,1740.8 L2336.8,1728.2" fill="none" stroke="#1e1e1e" stroke-width="2.8" stroke-linecap="round" stroke-linejoin="round"/>
<path d="M396.5,2040.0 L396.5,2101.0" fill="none" stroke="#1e1e1e" stroke-width="3" stroke-linecap="round"/>
<path d="M886.3,2038.0 L886.3,2099.0" fill="none" stroke="#1e1e1e" stroke-width="3" stroke-linecap="round"/>
<path d="M396.5,2069.4 L886.3,2069.4" fill="none" stroke="#1e1e1e" stroke-width="3" stroke-linecap="round" stroke-dasharray="16 18"/>
<text x="635.5" y="2116.0" text-anchor="middle" font-size="39" fill="#1e1e1e" stroke="#1e1e1e" stroke-width="0.5" textLength="126.1" lengthAdjust="spacingAndGlyphs">400ms</text>
</svg></body></html>
